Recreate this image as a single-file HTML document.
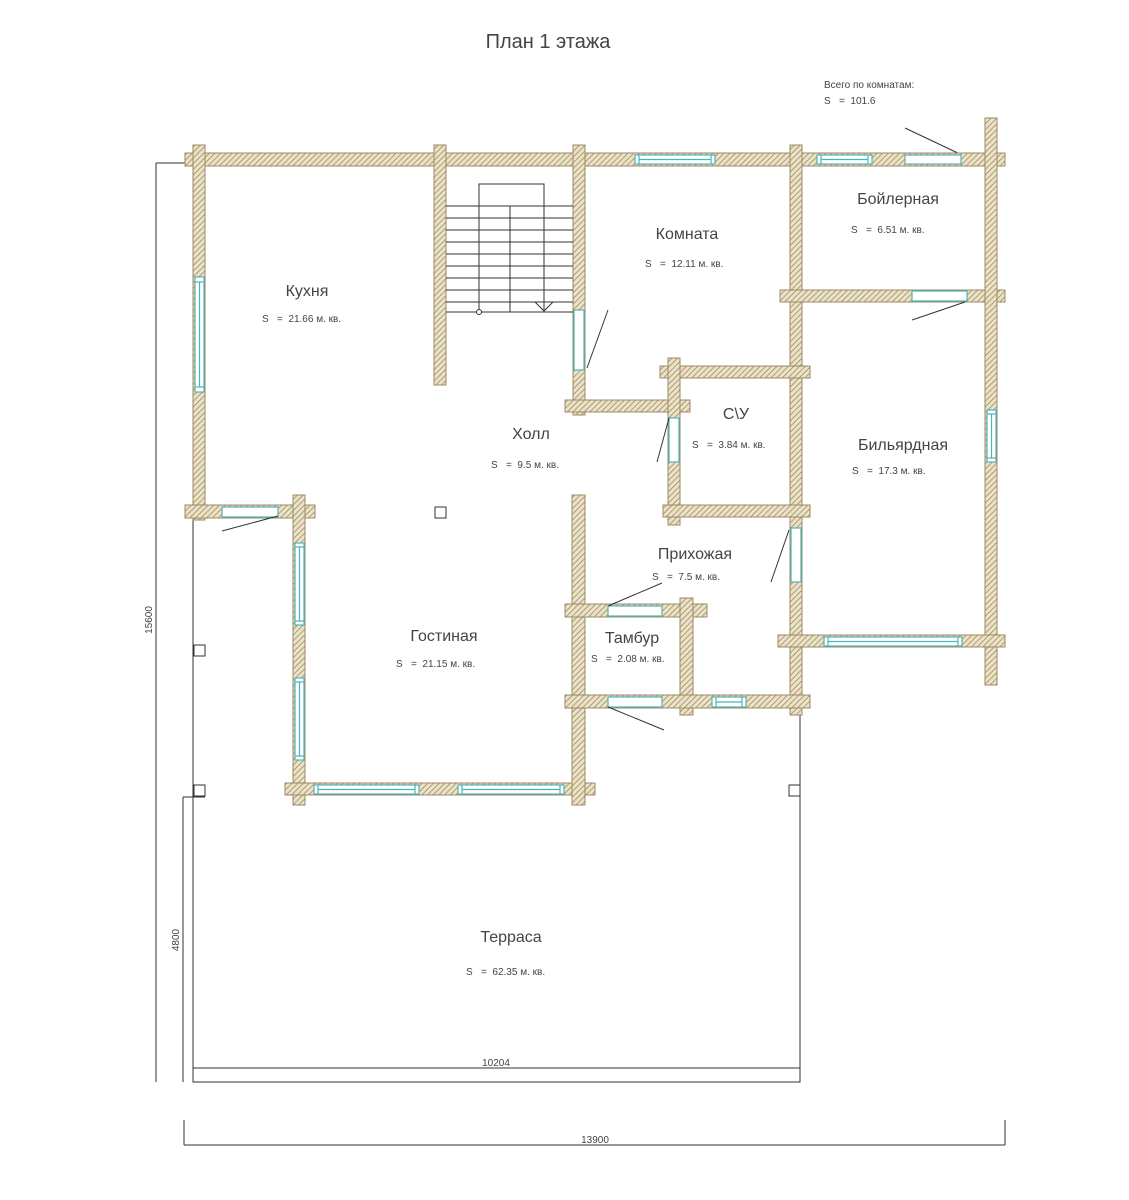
<!DOCTYPE html>
<html><head><meta charset="utf-8"><style>
html,body{margin:0;padding:0;background:#fff}
svg{display:block}
text{font-family:"Liberation Sans Narrow","Liberation Sans","DejaVu Sans",sans-serif;fill:#444}
.w{fill:url(#h);stroke:#9c8a63;stroke-width:1}
.win{fill:#fff;stroke:#4fb3b8;stroke-width:1.2}
.ln{stroke:#333;stroke-width:1;fill:none}
.st{stroke:#333;stroke-width:1;fill:none}
</style></head><body>
<svg width="1129" height="1200" viewBox="0 0 1129 1200" xmlns="http://www.w3.org/2000/svg">
<defs>
<pattern id="h" width="4" height="4" patternUnits="userSpaceOnUse" patternTransform="rotate(45)">
<rect width="4" height="4" fill="#ece2c6"/>
<line x1="0" y1="0" x2="0" y2="4" stroke="#8f7f5c" stroke-width="1.4"/>
</pattern>
</defs>

<text x="548" y="48" font-size="20" text-anchor="middle">План 1 этажа</text>
<text x="824" y="88" font-size="10">Всего по комнатам:</text>
<text x="824" y="104" font-size="10">S &#160;&#160;= &#160;101.6</text>
<line class="ln" x1="905" y1="128" x2="962" y2="155"/>

<polyline class="ln" points="193,515 193,1082 800,1082 800,715"/>
<line class="ln" x1="193" y1="1068" x2="800" y2="1068"/>
<line class="ln" x1="156" y1="163" x2="156" y2="1082"/>
<line class="ln" x1="156" y1="163" x2="193" y2="163"/>
<line class="ln" x1="183" y1="797" x2="183" y2="1082"/>
<line class="ln" x1="183" y1="797" x2="205" y2="797"/>
<line class="ln" x1="184" y1="1145" x2="1005" y2="1145"/>
<line class="ln" x1="184" y1="1120" x2="184" y2="1145"/>
<line class="ln" x1="1005" y1="1120" x2="1005" y2="1145"/>
<text transform="translate(152,620) rotate(-90)" font-size="10" text-anchor="middle">15600</text>
<text transform="translate(179,940) rotate(-90)" font-size="10" text-anchor="middle">4800</text>
<text x="496" y="1066" font-size="10" text-anchor="middle">10204</text>
<text x="595" y="1143" font-size="10" text-anchor="middle">13900</text>

<g class="w">
<rect x="185" y="153" width="820" height="13"/>
<rect x="193" y="145" width="12" height="375"/>
<rect x="185" y="505" width="130" height="13"/>
<rect x="434" y="145" width="12" height="240"/>
<rect x="573" y="145" width="12" height="270"/>
<rect x="565" y="400" width="125" height="12"/>
<rect x="790" y="145" width="12" height="570"/>
<rect x="780" y="290" width="225" height="12"/>
<rect x="985" y="118" width="12" height="567"/>
<rect x="660" y="366" width="150" height="12"/>
<rect x="668" y="358" width="12" height="167"/>
<rect x="663" y="505" width="147" height="12"/>
<rect x="293" y="495" width="12" height="310"/>
<rect x="285" y="783" width="310" height="12"/>
<rect x="572" y="495" width="13" height="310"/>
<rect x="565" y="604" width="142" height="13"/>
<rect x="680" y="598" width="13" height="117"/>
<rect x="565" y="695" width="245" height="13"/>
<rect x="778" y="635" width="227" height="12"/>
</g>

<g class="win">
<rect x="635" y="155" width="80" height="9"/><line x1="639" y1="159.5" x2="711" y2="159.5"/><line x1="639" y1="155" x2="639" y2="164"/><line x1="711" y1="155" x2="711" y2="164"/>
<rect x="817" y="155" width="55" height="9"/><line x1="821" y1="159.5" x2="868" y2="159.5"/><line x1="821" y1="155" x2="821" y2="164"/><line x1="868" y1="155" x2="868" y2="164"/>
<rect x="195" y="277" width="9" height="115"/><line x1="199.5" y1="282" x2="199.5" y2="387"/><line x1="195" y1="282" x2="204" y2="282"/><line x1="195" y1="387" x2="204" y2="387"/>
<rect x="295" y="543" width="9" height="82"/><line x1="299.5" y1="547" x2="299.5" y2="621"/><line x1="295" y1="547" x2="304" y2="547"/><line x1="295" y1="621" x2="304" y2="621"/>
<rect x="295" y="678" width="9" height="82"/><line x1="299.5" y1="682" x2="299.5" y2="756"/><line x1="295" y1="682" x2="304" y2="682"/><line x1="295" y1="756" x2="304" y2="756"/>
<rect x="314" y="785" width="105" height="9"/><line x1="318" y1="789.5" x2="415" y2="789.5"/><line x1="318" y1="785" x2="318" y2="794"/><line x1="415" y1="785" x2="415" y2="794"/>
<rect x="458" y="785" width="106" height="9"/><line x1="462" y1="789.5" x2="560" y2="789.5"/><line x1="462" y1="785" x2="462" y2="794"/><line x1="560" y1="785" x2="560" y2="794"/>
<rect x="824" y="637" width="138" height="9"/><line x1="828" y1="641.5" x2="958" y2="641.5"/><line x1="828" y1="637" x2="828" y2="646"/><line x1="958" y1="637" x2="958" y2="646"/>
<rect x="987" y="410" width="9" height="52"/><line x1="991.5" y1="414" x2="991.5" y2="458"/><line x1="987" y1="414" x2="996" y2="414"/><line x1="987" y1="458" x2="996" y2="458"/>
<rect x="712" y="697" width="34" height="10"/><line x1="716" y1="702" x2="742" y2="702"/><line x1="716" y1="697" x2="716" y2="707"/><line x1="742" y1="697" x2="742" y2="707"/>
<rect x="905" y="155" width="56" height="9"/>
<rect x="912" y="291" width="55" height="10"/>
<rect x="222" y="507" width="56" height="10"/>
<rect x="574" y="310" width="10" height="60"/>
<rect x="669" y="418" width="10" height="44"/>
<rect x="791" y="528" width="10" height="54"/>
<rect x="608" y="606" width="54" height="10"/>
<rect x="608" y="697" width="54" height="10"/>
</g>
<g class="ln">
<line x1="608" y1="310" x2="587" y2="368"/>
<line x1="669" y1="418" x2="657" y2="462"/>
<line x1="789" y1="530" x2="771" y2="582"/>
<line x1="912" y1="320" x2="965" y2="302"/>
<line x1="222" y1="531" x2="278" y2="516"/>
<line x1="608" y1="606" x2="662" y2="583"/>
<line x1="608" y1="707" x2="664" y2="730"/>
</g>

<g class="st">
<rect x="479" y="184" width="65" height="128" fill="none"/>
<line x1="510" y1="206" x2="510" y2="312"/>
<line x1="446" y1="206" x2="573" y2="206"/>
<line x1="446" y1="218" x2="573" y2="218"/>
<line x1="446" y1="230" x2="573" y2="230"/>
<line x1="446" y1="242" x2="573" y2="242"/>
<line x1="446" y1="254" x2="573" y2="254"/>
<line x1="446" y1="266" x2="573" y2="266"/>
<line x1="446" y1="278" x2="573" y2="278"/>
<line x1="446" y1="290" x2="573" y2="290"/>
<line x1="446" y1="302" x2="573" y2="302"/>
<line x1="446" y1="312" x2="573" y2="312"/>
<polyline points="535,302 544,311 553,302"/>
<circle cx="479" cy="312" r="2.5" fill="#fff"/>
</g>

<g class="ln" fill="#fff">
<rect x="194" y="645" width="11" height="11"/>
<rect x="194" y="785" width="11" height="11"/>
<rect x="435" y="507" width="11" height="11"/>
<rect x="789" y="785" width="11" height="11"/>
</g>

<g font-size="16" text-anchor="middle">
<text x="307" y="296">Кухня</text>
<text x="687" y="239">Комната</text>
<text x="898" y="204">Бойлерная</text>
<text x="531" y="439">Холл</text>
<text x="736" y="419">С\У</text>
<text x="903" y="450">Бильярдная</text>
<text x="695" y="559">Прихожая</text>
<text x="632" y="643">Тамбур</text>
<text x="444" y="641">Гостиная</text>
<text x="511" y="942">Терраса</text>
</g>
<g font-size="10">
<text x="262" y="322">S &#160;&#160;= &#160;21.66 м. кв.</text>
<text x="645" y="267">S &#160;&#160;= &#160;12.11 м. кв.</text>
<text x="851" y="233">S &#160;&#160;= &#160;6.51 м. кв.</text>
<text x="491" y="468">S &#160;&#160;= &#160;9.5 м. кв.</text>
<text x="692" y="448">S &#160;&#160;= &#160;3.84 м. кв.</text>
<text x="852" y="474">S &#160;&#160;= &#160;17.3 м. кв.</text>
<text x="652" y="580">S &#160;&#160;= &#160;7.5 м. кв.</text>
<text x="591" y="662">S &#160;&#160;= &#160;2.08 м. кв.</text>
<text x="396" y="667">S &#160;&#160;= &#160;21.15 м. кв.</text>
<text x="466" y="975">S &#160;&#160;= &#160;62.35 м. кв.</text>
</g>
</svg>
</body></html>
